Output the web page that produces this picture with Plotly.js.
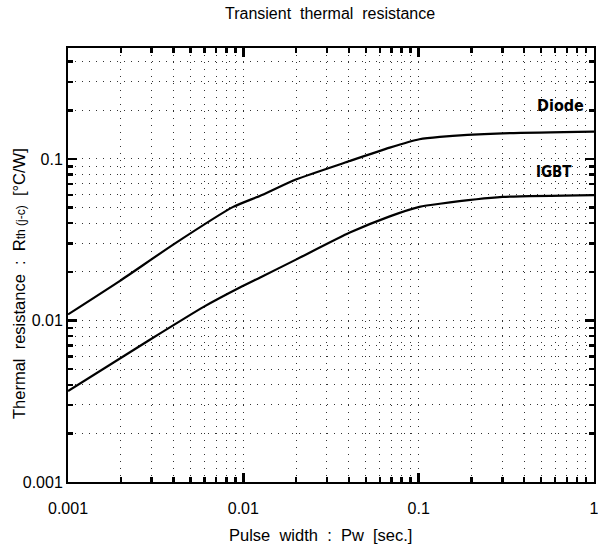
<!DOCTYPE html>
<html>
<head>
<meta charset="utf-8">
<script src="https://cdn.plot.ly/plotly-3.0.1.min.js"></script>
<style>html,body{margin:0;padding:0;background:#fff;}#chart{width:598px;height:550px;}</style>
</head>
<body>
<div id="chart"></div>
<script>
// Pulse width [sec.] and transient thermal resistance [°C/W]
var diodeX = [0.001, 0.00198, 0.004, 0.00875, 0.0124, 0.0201, 0.0405, 0.0684, 0.101, 0.132, 0.301, 1];
var diodeY = [0.0109, 0.0176, 0.0296, 0.0505, 0.059, 0.0749, 0.0972, 0.1175, 0.1324, 0.137, 0.144, 0.1475];
var igbtX = [0.001, 0.00293, 0.0059, 0.00955, 0.0124, 0.0201, 0.0405, 0.0684, 0.101, 0.132, 0.301, 1];
var igbtY = [0.00366, 0.0076, 0.0121, 0.016, 0.0184, 0.0239, 0.035, 0.0441, 0.0505, 0.0528, 0.0582, 0.0598];

var xTickVals = [0.001, 0.01, 0.1, 1];
var xTickText = ["0.001", "0.01", "0.1", "1"];
var yTickVals = [0.001, 0.01, 0.1];
var yTickText = ["0.001", "0.01", "0.1"];
var xMinorVals = [0.002,0.003,0.004,0.005,0.006,0.007,0.008,0.009,
                  0.02,0.03,0.04,0.05,0.06,0.07,0.08,0.09,
                  0.2,0.3,0.4,0.5,0.6,0.7,0.8,0.9];
var yMinorVals = [0.002,0.003,0.004,0.005,0.006,0.007,0.008,0.009,
                  0.02,0.03,0.04,0.05,0.06,0.07,0.08,0.09,
                  0.2,0.3,0.4];

var seriesNames = ["Diode", "IGBT"];

var gridDash = "1px,6px";
var gridColor = "#333";
var tickFont = {family: "Liberation Sans, Arial, sans-serif", size: 16, color: "#000"};

var traces = [
  {x: diodeX, y: diodeY, name: seriesNames[0], mode: "lines", xaxis: "x", yaxis: "y",
   line: {color: "#000", width: 2.2, shape: "spline", smoothing: 0.5}, hoverinfo: "skip"},
  {x: igbtX, y: igbtY, name: seriesNames[1], mode: "lines", xaxis: "x2", yaxis: "y",
   line: {color: "#000", width: 2.2, shape: "spline", smoothing: 0.5}, hoverinfo: "skip"}
];

var layout = {
  width: 598, height: 550,
  margin: {l: 68, r: 4, t: 48, b: 68},
  paper_bgcolor: "#fff", plot_bgcolor: "#fff",
  showlegend: false,
  font: {family: "Liberation Sans, Arial, sans-serif", color: "#000"},
  xaxis: {
    type: "log", range: [-3, 0],
    showline: true, linecolor: "#000", linewidth: 2, mirror: "ticks",
    ticks: "inside", ticklen: 9, tickwidth: 2.5, tickcolor: "#000",
    tickmode: "array", tickvals: xTickVals, ticktext: xTickText, showticklabels: false,
    showgrid: true, gridcolor: gridColor, gridwidth: 1, griddash: gridDash,
    minor: {tickmode: "array", tickvals: xMinorVals, ticks: "inside", ticklen: 5, tickwidth: 2.5, tickcolor: "#000",
            showgrid: true, gridcolor: gridColor, gridwidth: 1, griddash: gridDash}
  },
  xaxis2: {
    type: "log", range: [-3, 0], overlaying: "x", anchor: "y", side: "bottom",
    showline: false, showgrid: false, zeroline: false,
    ticks: "outside", ticklen: 12, tickwidth: 1, tickcolor: "rgba(0,0,0,0)",
    tickmode: "array", tickvals: xTickVals, ticktext: xTickText,
    ticklabeloverflow: "allow", tickfont: tickFont
  },
  yaxis: {
    type: "log", range: [-3, -0.313],
    showline: true, linecolor: "#000", linewidth: 2, mirror: "ticks",
    ticks: "inside", ticklen: 9, tickwidth: 2.5, tickcolor: "#000",
    tickmode: "array", tickvals: yTickVals, ticktext: yTickText, tickfont: tickFont,
    showgrid: true, gridcolor: gridColor, gridwidth: 1, griddash: gridDash,
    minor: {tickmode: "array", tickvals: yMinorVals, ticks: "inside", ticklen: 5, tickwidth: 2.5, tickcolor: "#000",
            showgrid: true, gridcolor: gridColor, gridwidth: 1, griddash: gridDash}
  },
  annotations: [
    {text: "Transient\u00a0\u00a0thermal\u00a0\u00a0resistance", xref: "paper", yref: "paper",
     x: (330-68)/526, y: 1 + (48-13.5)/434, xanchor: "center", yanchor: "middle", showarrow: false,
     font: {size: 16, family: "Liberation Sans, Arial, sans-serif", color: "#000"}},
    {text: "Pulse\u00a0\u00a0width\u00a0\u00a0:\u00a0\u00a0Pw\u00a0\u00a0[sec.]", xref: "paper", yref: "paper",
     x: (320.5-68)/526, y: -(535-482)/434, xanchor: "center", yanchor: "middle", showarrow: false,
     font: {size: 16.5, family: "Liberation Sans, Arial, sans-serif", color: "#000"}},
    {text: "Thermal\u00a0\u00a0resistance\u00a0\u00a0:\u00a0\u00a0R<span style='font-size:12px'>th\u00a0(j-c)</span>\u00a0\u00a0[°C/W]",
     xref: "paper", yref: "paper", textangle: -90,
     x: -(68-18.5)/526, y: (482-283.5)/434, xanchor: "center", yanchor: "middle", showarrow: false,
     font: {size: 16.5, family: "Liberation Sans, Arial, sans-serif", color: "#000"}},
    {text: "<b>" + seriesNames[0] + "</b>", xref: "paper", yref: "paper",
     x: (560-68)/526, y: (482-105)/434, xanchor: "center", yanchor: "middle", showarrow: false,
     font: {size: 16, family: "DejaVu Sans Condensed, DejaVu Sans, sans-serif", stretch: "condensed", weight: "bold", color: "#000"}},
    {text: "<b>" + seriesNames[1] + "</b>", xref: "paper", yref: "paper",
     x: (554-68)/526, y: (482-171.5)/434, xanchor: "center", yanchor: "middle", showarrow: false,
     font: {size: 15, family: "DejaVu Sans Condensed, DejaVu Sans, sans-serif", stretch: "condensed", weight: "bold", color: "#000"}}
  ]
};

Plotly.newPlot("chart", traces, layout, {displayModeBar: false, staticPlot: true});
</script>
</body>
</html>
